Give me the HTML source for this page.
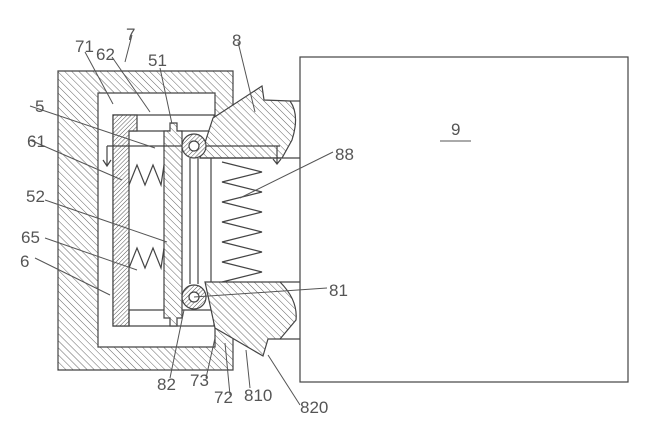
<!DOCTYPE html>
<html><head><meta charset="utf-8"><style>
html,body{margin:0;padding:0;background:#fff;}
svg{display:block;}
text{font-family:"Liberation Sans",sans-serif;font-size:17px;fill:#555;}
</style></head><body>
<svg width="664" height="430" viewBox="0 0 664 430" xmlns="http://www.w3.org/2000/svg">
<defs>
<pattern id="h" width="5" height="5" patternUnits="userSpaceOnUse" patternTransform="rotate(45)">
<rect width="5" height="5" fill="#fff"/><line x1="0" y1="0" x2="0" y2="5" stroke="#666" stroke-width="1"/></pattern>
<pattern id="h2" width="5" height="5" patternUnits="userSpaceOnUse" patternTransform="rotate(-45)">
<rect width="5" height="5" fill="#fff"/><line x1="0" y1="0" x2="0" y2="5" stroke="#666" stroke-width="1"/></pattern>
<pattern id="hd" width="3" height="3" patternUnits="userSpaceOnUse" patternTransform="rotate(45)">
<rect width="3" height="3" fill="#fff"/><line x1="0" y1="0" x2="0" y2="3" stroke="#555" stroke-width="1"/></pattern>
</defs>
<g stroke="#444" stroke-width="1.2" fill="none">
<!-- box 9 -->
<rect x="300" y="57" width="328" height="325" fill="#fff"/>
<!-- frame 6 -->
<path d="M58 71 H233 V110 L215 120 V112 V93 H98 V347 H215 V327 L233 338 V370 H58 Z" fill="url(#h2)"/>
<!-- 62 L box -->
<path d="M113 115 H214 V131 H128 V310 H214 V326 H113 Z" fill="#fff"/>
<!-- 61 plate -->
<path d="M113 115 H137 V131 H129 V326 H113 Z" fill="url(#hd)"/>
<path d="M129 310 V326" />
<!-- plate 5 -->
<path d="M164 131 H170 V123 H177 V131 H182 V318 H177 V326 H170 V318 H164 Z" fill="url(#h2)"/>
<!-- rails -->
<line x1="190" y1="158" x2="190" y2="284"/>
<line x1="198" y1="158" x2="198" y2="284"/>
<line x1="211" y1="158" x2="211" y2="284"/>
<!-- block 8 top -->
<path d="M200 158 L213 118 L262 86 L264 100 L290 101 Q300 115 292 140 L282 158 Z" fill="url(#h2)"/>
<!-- block 8 bottom -->
<path d="M205 282 H280 Q298 300 296 320 L280 339 H268 L263 356 L215 328 Z" fill="url(#h2)"/>
<!-- rod -->
<path d="M107 146 H280"/>
<path d="M107 146 V166 M103 160 L107 166 L111 160"/>
<path d="M277 146 V164 M273 159 L277 164 L281 159"/>
<!-- spring housing lines -->
<line x1="200" y1="158" x2="300" y2="158"/>
<line x1="280" y1="339" x2="300" y2="339"/>
<line x1="290" y1="101" x2="300" y2="101"/>
<line x1="280" y1="282" x2="300" y2="282"/>
<!-- big spring -->
<polyline points="222,162 262,172 222,182 262,192 222,202 262,212 222,222 262,232 222,242 262,252 222,262 262,272 222,282"/>
<!-- small springs -->
<polyline points="129,185 137,165 145,185 153,165 161,185 164,165"/>
<polyline points="129,268 137,248 145,268 153,248 161,268 164,248"/>
<!-- rollers -->
<circle cx="194" cy="146" r="12" fill="url(#hd)"/>
<circle cx="194" cy="146" r="5" fill="#fff"/>
<circle cx="194" cy="297" r="12" fill="url(#hd)"/>
<circle cx="194" cy="297" r="5" fill="#fff"/>
<!-- leaders -->
<g stroke="#555" stroke-width="1">
<line x1="85" y1="52" x2="113" y2="104"/>
<line x1="112" y1="57" x2="150" y2="112"/>
<line x1="132" y1="35" x2="125" y2="62"/>
<line x1="160" y1="68" x2="172" y2="124"/>
<line x1="30" y1="106" x2="155" y2="148"/>
<line x1="30" y1="140" x2="122" y2="180"/>
<line x1="45" y1="200" x2="167" y2="242"/>
<line x1="45" y1="238" x2="137" y2="270"/>
<line x1="35" y1="258" x2="110" y2="295"/>
<line x1="238" y1="42" x2="255" y2="112"/>
<line x1="333" y1="152" x2="240" y2="198"/>
<line x1="327" y1="288" x2="194" y2="297"/>
<line x1="184" y1="310" x2="170" y2="378"/>
<line x1="215" y1="338" x2="206" y2="378"/>
<line x1="225" y1="343" x2="230" y2="395"/>
<line x1="246" y1="350" x2="250" y2="388"/>
<line x1="268" y1="355" x2="300" y2="405"/>
<line x1="440" y1="141" x2="471" y2="141"/>
</g>
</g>
<text x="75" y="52">71</text>
<text x="96" y="60">62</text>
<text x="126" y="40">7</text>
<text x="148" y="66">51</text>
<text x="232" y="46">8</text>
<text x="35" y="112">5</text>
<text x="27" y="147">61</text>
<text x="26" y="202">52</text>
<text x="21" y="243">65</text>
<text x="20" y="267">6</text>
<text x="335" y="160">88</text>
<text x="329" y="296">81</text>
<text x="451" y="135">9</text>
<text x="157" y="390">82</text>
<text x="190" y="386">73</text>
<text x="214" y="403">72</text>
<text x="244" y="401">810</text>
<text x="300" y="413">820</text>
</svg>
</body></html>
